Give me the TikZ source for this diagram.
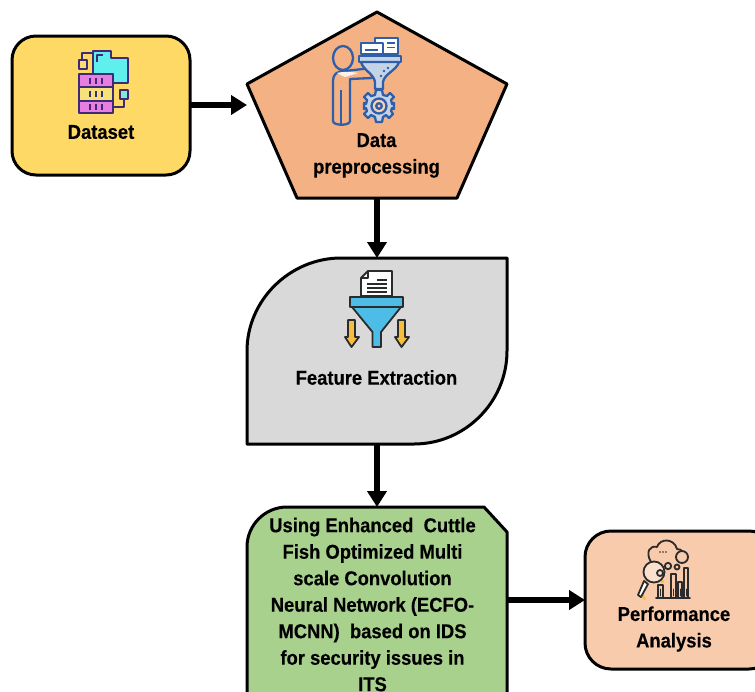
\documentclass[tikz,border=0pt]{standalone}
\usepackage{fontspec}
\setmainfont{Liberation Sans}[FakeStretch=0.92,BoldFeatures={FakeBold=0.25,FakeStretch=0.92}]
\usetikzlibrary{arrows.meta}
\definecolor{cYellow}{HTML}{FFD966}
\definecolor{cOrange}{HTML}{F4B183}
\definecolor{cGrey}{HTML}{D9D9D9}
\definecolor{cGreen}{HTML}{A9D18E}
\definecolor{cPeach}{HTML}{F8CBAD}
\definecolor{icPurple}{HTML}{3F2A78}
\definecolor{icPink}{HTML}{E77FE0}
\definecolor{icCyan}{HTML}{5FF0EE}
\definecolor{icLemon}{HTML}{F5E27A}
\definecolor{icBlue}{HTML}{2F5FA8}
\definecolor{icPale}{HTML}{C5D3E8}
\definecolor{icFunnel}{HTML}{4DBDE8}
\definecolor{icGold}{HTML}{F5BE3C}
\definecolor{icDark}{HTML}{2B2B2B}
\tikzset{
  shapebox/.style={draw=black,line width=3pt,line join=round},
  txtlabel/.style={font=\bfseries\fontsize{20}{26.5}\selectfont,align=center,text=black,inner sep=0pt},
  flow/.style={draw=black,line width=5.5pt,-{Triangle[length=16pt,width=19pt]}},
  icp/.style={draw=icPurple,line width=2pt,line join=round},
  icb/.style={draw=icBlue,line width=2.3pt,line join=round},
  icd/.style={draw=icDark,line width=1.8pt,line join=round},
}
\begin{document}
\begin{tikzpicture}[x=1pt,y=-1pt]
\useasboundingbox (0,0) rectangle (755,691);
\clip (0,0) rectangle (755,691);
\fill[white] (0,0) rectangle (755,691);
% shapes
\path[shapebox,fill=cYellow,rounded corners=24pt] (12,36) rectangle (190,175);
\path[shapebox,fill=cOrange] (377,12) -- (507,84) -- (457,198) -- (297,198) -- (247,84) -- cycle;
\path[shapebox,fill=cGrey] (247,444) -- (247,351) .. controls (247,300) and (290,258) .. (341,258) -- (507,258) -- (507,351) .. controls (507,402) and (465,444) .. (414,444) -- cycle;
\path[shapebox,fill=cGreen] (247,720) -- (247,547) .. controls (247,525) and (265,507) .. (287,507) -- (484,507) -- (507,532) -- (507,720) -- cycle;
\path[shapebox,fill=cPeach,rounded corners=26pt] (585,531) rectangle (775,669);
% anchors
\coordinate (dsE) at (190,105);
\coordinate (ppW) at (247,105);
\coordinate (ppS) at (377,198);
\coordinate (feN) at (377,258);
\coordinate (feS) at (377,444);
\coordinate (clN) at (377,507);
\coordinate (clE) at (507,600);
\coordinate (paW) at (585,600);
% connectors
\draw[flow] (dsE) -- (ppW);
\draw[flow] (ppS) -- (feN);
\draw[flow] (feS) -- (clN);
\draw[flow] (clE) -- (paW);
% labels
\node[txtlabel] (dataset) at (101,132) {Dataset};
\node[txtlabel] (prep) at (376.5,155.5) {Data\\preprocessing};
\node[txtlabel] (feat) at (376.5,377.5) {Feature Extraction};
\node[txtlabel,anchor=north] (model) at (372.5,517.5) {Using Enhanced\ \ Cuttle\\Fish Optimized Multi\\scale Convolution\\Neural Network (ECFO-\\MCNN)\ \ based on IDS\\for security issues in\\ITS};
\node[txtlabel] (perf) at (674,629) {Performance\\Analysis};
% dataset icon
\begin{scope}
\draw[icp] (82,59) -- (82,53) -- (93,53);
\draw[icp,fill=cYellow!60!icLemon] (79,60) rectangle (87,69);
\draw[icp,fill=icCyan] (93,74) -- (93,51) -- (111,51) -- (111,58) -- (128,58) -- (128,83) -- (113,83) -- (113,74) -- cycle;
\draw[icp] (97,62) -- (97,55) -- (103,55);
\draw[icp,fill=icPink] (79,74) rectangle (113,87);
\draw[icp,fill=icLemon] (79,87) rectangle (113,101);
\draw[icp,fill=icPink] (79,101) rectangle (113,113);
\foreach \y in {80.5,94,107}{
  \draw[icPurple,line width=2pt] (90,\y-3) -- (90,\y+3) (96,\y-3) -- (96,\y+3) (102,\y-3) -- (102,\y+3);
}
\draw[icp] (113,107) -- (124,107) -- (124,99);
\draw[icp,fill=icCyan!80!cYellow] (120,90) rectangle (128,99);
\end{scope}
% preprocessing icon
\begin{scope}
\draw[icb] (343,58) ellipse[x radius=10,y radius=12];
\draw[icb] (372,68) -- (345,71) .. controls (336,71) and (333,75) .. (333,81) -- (333,121) .. controls (333,126) and (350,126) .. (350,121) -- (350,79) -- (372,78) -- cycle;
\draw[icb] (341,90) -- (341,125);
\fill[white!85!cOrange] (337,73) .. controls (345,71) and (352,72) .. (358,73) -- (345,77) -- cycle;
\draw[icb,fill=white] (375,38) rectangle (398,54);
\draw[icb,fill=white] (361,43) rectangle (383,54);
\draw[icBlue,line width=1.8pt] (365,50) -- (378,50) (387,43) -- (395,43) (387,47.5) -- (395,47.5);
\draw[icb,fill=icPale] (359,56) rectangle (401,62);
\draw[icb,fill=icPale] (361,62) -- (399,62) .. controls (397,70) and (384,74) .. (383,82) -- (383,89) -- (375,89) -- (375,82) .. controls (374,74) and (363,70) .. (361,62) -- cycle;
\fill[icBlue] (384,71) circle[radius=1.3] (388,68) circle[radius=1.3] (381,76) circle[radius=1.3];
\draw[icb,fill=icPale] (376,90) -- (382,90) -- (383,95) -- (387,96) -- (390,93) -- (394,97) -- (391,100) -- (392,104) -- (394,103) -- (394,109) -- (392,108) -- (391,111) -- (393,114) -- (389,118) -- (386,115) -- (383,117) -- (382,122) -- (376,122) -- (375,117) -- (371,115) -- (368,118) -- (364,114) -- (367,111) -- (366,108) -- (364,109) -- (364,103) -- (366,104) -- (367,100) -- (364,97) -- (368,93) -- (371,96) -- (375,95) -- cycle;
\draw[icb,fill=cOrange!60!white] (379,106) circle[radius=7.5];
\draw[icb] (379,106) circle[radius=2.8];
\end{scope}
% feature icon
\begin{scope}
\draw[icd,fill=white] (368,271) -- (392,271) -- (392,296) -- (361,296) -- (361,278) -- cycle;
\draw[icd] (361,278) -- (368,278) -- (368,271);
\draw[icDark,line width=1.8pt] (377,280) -- (387,280) (367,284) -- (387,284) (367,288) -- (387,288) (367,292) -- (387,292);
\draw[icd,fill=icFunnel] (350,297) rectangle (403,307);
\draw[icd,fill=icFunnel] (352,307) -- (401,307) -- (381,332) -- (381,347) -- (372.5,347) -- (372.5,332) -- cycle;
\draw[icd,fill=icGold] (348,320) -- (355,320) -- (355,337) -- (359,337) -- (351.5,347) -- (345,337) -- (348,337) -- cycle;
\draw[icd,fill=icGold] (398,320) -- (405,320) -- (405,337) -- (409,337) -- (401.5,347) -- (395,337) -- (398,337) -- cycle;
\end{scope}
% performance icon
\begin{scope}[line cap=round]
\draw[icd] (651,562) .. controls (645,552) and (650,545) .. (657,547) .. controls (660,538) and (674,538) .. (677,549) .. controls (680,549) and (681,550) .. (682,551);
\fill[icDark] (660,552) circle[radius=0.9] (663,552) circle[radius=0.9] (666,552) circle[radius=0.9];
\draw[icd] (682,557) circle[radius=6];
\draw[icd] (668,566) circle[radius=3.2] (677,567) circle[radius=2.5];
\draw[icGold!85!cPeach,line width=3pt] (663,582) arc[start angle=-45,end angle=-220,radius=12.5];
\draw[icd,fill=cPeach!60!white] (654,572) circle[radius=10.5];
\draw[icd] (660,573) circle[radius=3];
\draw[icd,fill=white] (644,581) -- (648,584) -- (641,597) -- (638,595) -- cycle;
\draw[icd] (658,585) rectangle (663,598) (671,574) rectangle (676,598) (678,582) rectangle (682,598) (684,568) rectangle (688,598);
\foreach \x in {660.5,673.5,680,686}{\draw[icDark,line width=.8pt] (\x,596) -- (\x,589);}
\draw[icd] (656,598) -- (690,598);
\end{scope}
\end{tikzpicture}
\end{document}
